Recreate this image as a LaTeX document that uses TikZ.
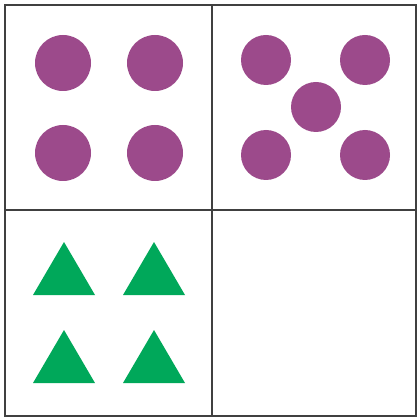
\documentclass[tikz,border=0pt]{standalone}
\begin{document}
\begin{tikzpicture}[x=1pt,y=-1pt,
  gridline/.style={draw=black!75,line width=2pt},
  dot/.style={circle,fill=dotpurple,draw=none,inner sep=0pt},
  tri/.style={fill=trigreen,draw=none}]
\definecolor{dotpurple}{HTML}{9C4A8B}
\definecolor{trigreen}{HTML}{00A85A}
\useasboundingbox[fill=white] (0,0) rectangle (418,419);
\draw[gridline] (5,5) rectangle (416,416);
\draw[gridline] (212,5) -- (212,416);
\draw[gridline] (5,210) -- (416,210);
% top-left: four circles
\foreach \x/\y [count=\i] in {63/63,155/63,63/153,155/153}
  \node[dot,minimum size=56pt] (a\i) at (\x,\y) {};
% top-right: five circles
\foreach \x/\y [count=\i] in {266/60,365/60,316/107,266/155,365/155}
  \node[dot,minimum size=50pt] (b\i) at (\x,\y) {};
% bottom-left: four triangles
\foreach \x/\y in {64/242,154/242,64/330,154/330}
  \fill[tri] (\x,\y) -- (\x+31,\y+53) -- (\x-31,\y+53) -- cycle;
\end{tikzpicture}
\end{document}
